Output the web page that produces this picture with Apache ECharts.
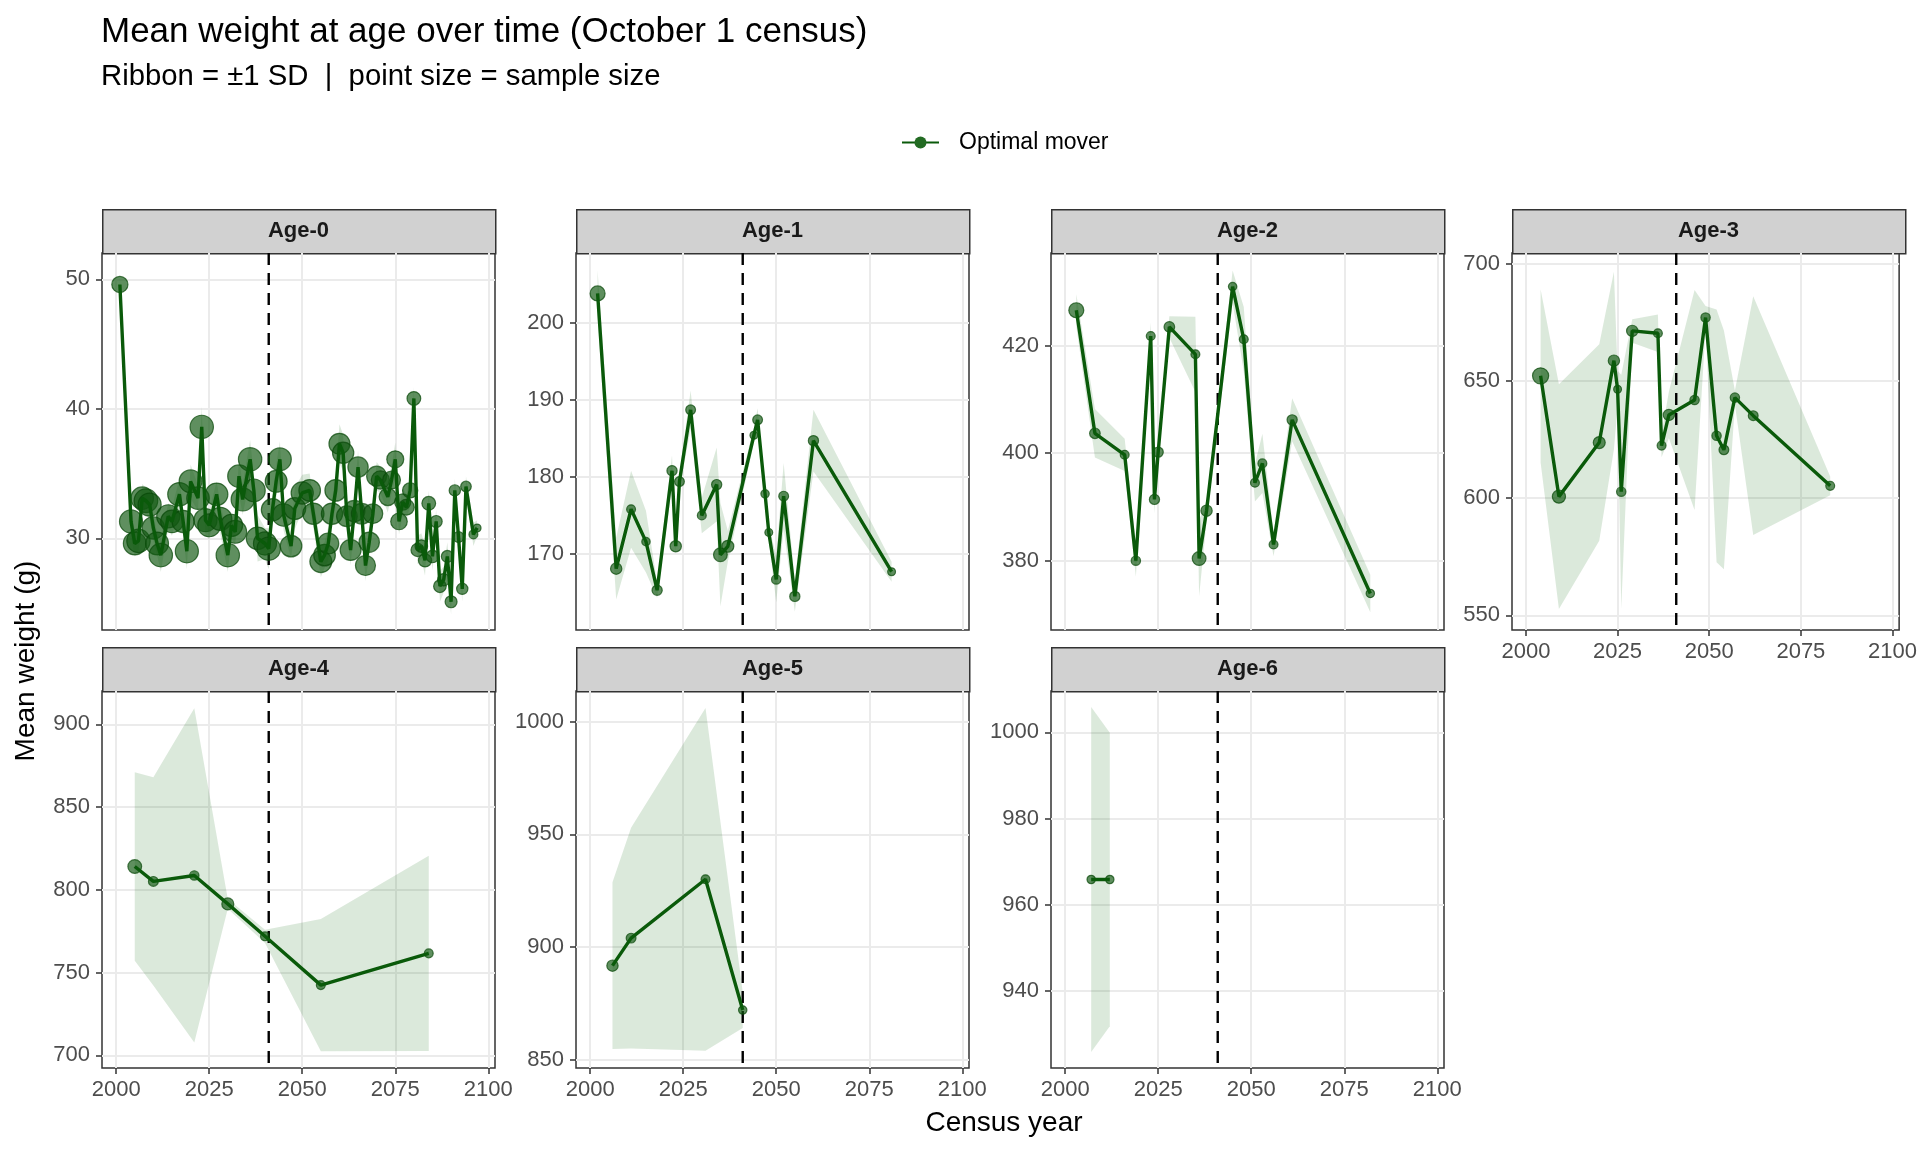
<!DOCTYPE html>
<html>
<head>
<meta charset="utf-8">
<title>Mean weight at age over time</title>
<script src="https://cdn.jsdelivr.net/npm/echarts@6/dist/echarts.min.js"></script>
<style>
  html, body { margin: 0; padding: 0; background: #fff; }
  #chart { width: 1920px; height: 1152px; }
</style>
</head>
<body>
<div id="chart"></div>
<script>
// ---- data ----
const ageLabels = ['Age-0', 'Age-1', 'Age-2', 'Age-3', 'Age-4', 'Age-5', 'Age-6'];
const yearTicks = [2000, 2025, 2050, 2075, 2100];
const refYear = 2041;

const years0 = [2001,2004,2005,2006,2007,2008,2009,2010,2011,2012,
  2014,2015,2017,2018,2019,2020,2022,2023,2024,2025,
  2027,2028,2030,2031,2032,2033,2034,2036,2037,2038,
  2040,2041,2042,2043,2044,2045,2047,2048,2050,2052,
  2053,2055,2056,2057,2058,2059,2060,2061,2062,2063,
  2064,2065,2066,2067,2068,2069,2070,2071,2073,2074,
  2075,2076,2077,2078,2079,2080,2081,2082,2083,2084,
  2085,2086,2087,2088,2089,2090,2091,2092,2093,2094,
  2096,2097];
const weight0 = [49.6,31.3,29.6,29.8,33.1,32.9,32.6,30.8,29.6,28.7,
  31.7,31.3,33.4,31.3,29.0,34.4,33.1,38.6,31.4,31.0,
  33.4,31.5,28.7,31.0,30.5,34.8,33.0,36.1,33.7,30.0,
  29.6,29.2,32.2,34.4,36.1,31.8,29.4,32.3,33.5,33.7,
  31.9,28.2,28.7,29.6,31.9,33.7,37.3,36.6,31.7,29.1,
  32.1,35.5,31.9,27.9,29.7,31.9,34.8,34.5,33.2,34.5,
  36.1,31.3,32.8,32.4,33.7,40.8,29.1,29.4,28.3,32.7,
  28.6,31.3,26.3,26.8,28.6,25.1,33.7,30.1,26.1,34.0,
  30.3,30.8];
const sd0 = [0.6,1.2,1.0,0.9,1.1,1.0,1.2,1.0,0.9,1.3,
  1.0,1.1,1.2,1.0,1.4,1.3,1.0,1.6,1.2,1.1,
  1.0,1.2,1.3,1.0,1.1,1.4,1.2,1.5,1.3,1.8,
  1.2,1.6,1.1,1.3,1.4,1.2,1.0,1.6,1.4,1.3,
  1.1,1.2,1.0,1.3,1.1,1.2,1.5,1.4,1.0,1.2,
  1.1,1.3,1.0,1.2,1.1,1.0,1.1,1.0,1.2,1.1,
  1.3,1.0,1.1,1.0,1.2,0.9,1.1,1.0,1.2,1.0,
  1.1,0.9,1.2,1.0,1.1,1.0,0.9,1.1,1.0,0.8,
  0.9,0.6];
const n0 = [30,70,68,72,66,74,70,65,68,72,
  70,66,72,64,70,68,66,72,70,68,
  66,70,72,64,68,66,70,72,68,66,
  70,72,64,62,68,66,60,62,64,60,
  58,62,60,56,58,60,56,58,54,56,
  58,52,54,50,52,48,50,40,36,38,
  34,32,30,28,26,20,18,16,18,20,
  16,14,16,15,14,14,12,11,12,10,
  6,4];

const years1 = [2002,2007,2011,2015,2018,2022,2023,2024,2027,2030,2034,2035,2037,2044,2045,2047,2048,2050,2052,2055,2060,2081];
const weight1 = [203.8,168.1,175.8,171.6,165.3,180.8,171.0,179.4,188.7,175.0,179.0,169.9,171.0,185.4,187.4,177.8,172.8,166.7,177.5,164.5,184.7,167.7];
const sd1 = [3,4,5,4,1,2,1,1,2.5,2.3,4.8,6.7,2,1,1.5,1,1,3,4.3,2,4,1.3];
const n1 = [25,12,6,5,9,9,12,8,8,6,9,20,14,4,8,5,4,7,8,9,9,4];

const years2 = [2003,2008,2016,2019,2023,2024,2025,2028,2035,2036,2038,2045,2048,2051,2053,2056,2061,2082];
const weight2 = [426.6,403.7,399.7,380.0,421.8,391.4,400.2,423.5,418.4,380.4,389.3,431.0,421.2,394.5,398.1,383.0,406.2,373.9];
const sd2 = [3,4.5,3,3,2.5,2.6,1.5,2,7,7,2,3,6,3.5,5.5,2.2,4,3.5];
const n2 = [25,10,6,7,6,9,9,10,6,20,12,5,6,6,6,6,9,5];

const years3 = [2004,2009,2020,2024,2025,2026,2029,2036,2037,2039,2046,2049,2052,2054,2057,2062,2083];
const weight3 = [652.3,600.7,623.8,658.8,646.6,602.8,671.5,670.5,622.5,635.6,642.0,677.2,626.7,620.7,643.0,635.3,605.3];
const sd3 = [37,48,42,38,8,50,5,8,5,10,47,5,54,51,3,51,4];
const n3 = [30,18,14,12,4,7,12,6,6,12,7,7,7,8,7,8,6];

const years4 = [2005,2010,2021,2030,2040,2055,2084];
const weight4 = [814.1,805.1,808.7,791.5,771.9,742.4,761.6];
const sd4 = [57,63,101,3,4,40,59];
const n4 = [20,8,7,14,6,6,6];

const years5 = [2006,2011,2031,2041];
const weight5 = [891.8,904.0,930.1,872.1];
const sd5 = [37,49,76,8];
const n5 = [12,8,6,5];

const years6 = [2007,2012];
const weight6 = [965.9,965.9];
const sd6 = [40,34];
const n6 = [5,5];

const yTicks = [[30,40,50],[170,180,190,200],[380,400,420],[550,600,650,700],[700,750,800,850,900],[850,900,950,1000],[940,960,980,1000]];
const yMin = [22.92,160.14,367.1,543.7,692.3,846.4,922.2];
const yMax = [52.03,209.04,437.25,704.8,920.2,1013.6,1009.6];
const xMin = 1996.2, xMax = 2101.8;

const allYears = [years0, years1, years2, years3, years4, years5, years6];
const allWeight = [weight0, weight1, weight2, weight3, weight4, weight5, weight6];
const allSd = [sd0, sd1, sd2, sd3, sd4, sd5, sd6];
const allN = [n0, n1, n2, n3, n4, n5, n6];

// ---- layout ----
const FONT = 'Liberation Sans, Arial, Helvetica, sans-serif';
const colLeft = [102, 576, 1051, 1512];
const rowTop = [253, 691];
const panelW = 393, panelH = 377, stripH = 44;
const GREEN = '#0a5a0a';

let grids = [], xAxes = [], yAxes = [], series = [], graphics = [];

ageLabels.forEach((lab, i) => {
  const row = i < 4 ? 0 : 1, col = i % 4;
  const left = colLeft[col], top = rowTop[row];
  const showX = i >= 3;
  const yrs = allYears[i], w = allWeight[i], sd = allSd[i], n = allN[i];

  grids.push({ left: left, top: top, width: panelW, height: panelH,
    show: true, borderColor: '#333333', borderWidth: 1.5, backgroundColor: '#fff' });

  xAxes.push({
    type: 'value', gridIndex: i, min: xMin, max: xMax,
    axisLine: { show: false },
    axisTick: { show: showX, customValues: yearTicks, length: 6, lineStyle: { color: '#333', width: 1.5 } },
    axisLabel: { show: showX, customValues: yearTicks, fontSize: 22, color: '#4d4d4d', margin: 11,
      fontFamily: FONT, formatter: v => String(v) },
    splitLine: { show: true, lineStyle: { color: '#ebebeb', width: 2 } }
  });
  yAxes.push({
    type: 'value', gridIndex: i, min: yMin[i], max: yMax[i],
    axisLine: { show: false },
    axisTick: { show: true, customValues: yTicks[i], length: 6, lineStyle: { color: '#333', width: 1.5 } },
    axisLabel: { customValues: yTicks[i], fontSize: 22, color: '#4d4d4d', margin: 12,
      fontFamily: FONT, formatter: v => String(v) },
    splitLine: { show: true, lineStyle: { color: '#ebebeb', width: 2 } }
  });

  // ribbon = mean +/- 1 SD
  series.push({
    type: 'custom', xAxisIndex: i, yAxisIndex: i, z: 1, silent: true, animation: false,
    data: yrs.map((y, k) => [y, w[k] - sd[k], w[k] + sd[k]]),
    renderItem: (params, api) => {
      if (params.dataIndex !== 0) return null;
      const up = [], lo = [];
      for (let k = 0; k < yrs.length; k++) {
        up.push(api.coord([yrs[k], w[k] + sd[k]]));
        lo.push(api.coord([yrs[k], w[k] - sd[k]]));
      }
      return { type: 'polygon', shape: { points: up.concat(lo.reverse()) },
        style: { fill: 'rgba(0,100,0,0.14)' } };
    }
  });
  // dashed reference year
  series.push({
    type: 'custom', xAxisIndex: i, yAxisIndex: i, z: 2, silent: true, animation: false,
    data: [[refYear]],
    renderItem: (params, api) => {
      const x = api.coord([api.value(0), yMin[i]])[0];
      const cs = params.coordSys;
      return { type: 'line', shape: { x1: x, y1: cs.y, x2: x, y2: cs.y + cs.height },
        style: { stroke: '#000', lineWidth: 2.4, lineDash: [12, 8] } };
    }
  });
  // line
  series.push({
    type: 'line', name: 'Optimal mover', xAxisIndex: i, yAxisIndex: i, z: 4, animation: false,
    data: yrs.map((y, k) => [y, w[k]]),
    symbol: 'circle', symbolSize: 10, showSymbol: false,
    lineStyle: { color: GREEN, width: 3.4 },
    itemStyle: { color: '#236b23' }
  });
  // points sized by sample size
  series.push({
    type: 'scatter', name: 'Optimal mover', xAxisIndex: i, yAxisIndex: i, z: 3, animation: false,
    data: yrs.map((y, k) => [y, w[k], n[k]]),
    symbolSize: v => 2.4 * Math.sqrt(v[2]) + 3,
    itemStyle: { color: 'rgba(16,88,16,0.84)', borderColor: 'rgba(8,72,8,0.9)', borderWidth: 1.2 }
  });

  // facet strip
  graphics.push({ type: 'rect', left: left, top: top - stripH,
    shape: { width: panelW, height: stripH },
    style: { fill: '#d1d1d1', stroke: '#333333', lineWidth: 1.5 } });
  graphics.push({ type: 'text', x: left + panelW / 2, y: top - stripH / 2,
    style: { text: lab, fontSize: 22, fontWeight: 'bold', fill: '#1a1a1a', fontFamily: FONT,
      align: 'center', verticalAlign: 'middle' } });
});

graphics.push({ type: 'text', x: 26, y: 661, rotation: Math.PI / 2,
  style: { text: 'Mean weight (g)', fontSize: 28, fill: '#000', fontFamily: FONT,
    align: 'center', verticalAlign: 'middle' } });
graphics.push({ type: 'text', x: 1004, y: 1123,
  style: { text: 'Census year', fontSize: 28, fill: '#000', fontFamily: FONT,
    align: 'center', verticalAlign: 'middle' } });

const chart = echarts.init(document.getElementById('chart'));
chart.setOption({
  backgroundColor: '#fff',
  animation: false,
  title: [
    { text: 'Mean weight at age over time (October 1 census)', left: 101, top: 15, padding: 0,
      textStyle: { fontSize: 35, fontWeight: 'normal', color: '#000', fontFamily: FONT } },
    { text: 'Ribbon = \u00b11 SD  |  point size = sample size', left: 101, top: 62, padding: 0,
      textStyle: { fontSize: 29.3, fontWeight: 'normal', color: '#000', fontFamily: FONT } }
  ],
  legend: {
    data: ['Optimal mover'], left: 901, top: 131, padding: 0, itemWidth: 37, itemHeight: 15,
    textStyle: { fontSize: 23, color: '#000', fontFamily: FONT, padding: [0, 0, 0, 15] }
  },
  grid: grids,
  xAxis: xAxes,
  yAxis: yAxes,
  series: series,
  graphic: graphics
});
</script>
</body>
</html>
